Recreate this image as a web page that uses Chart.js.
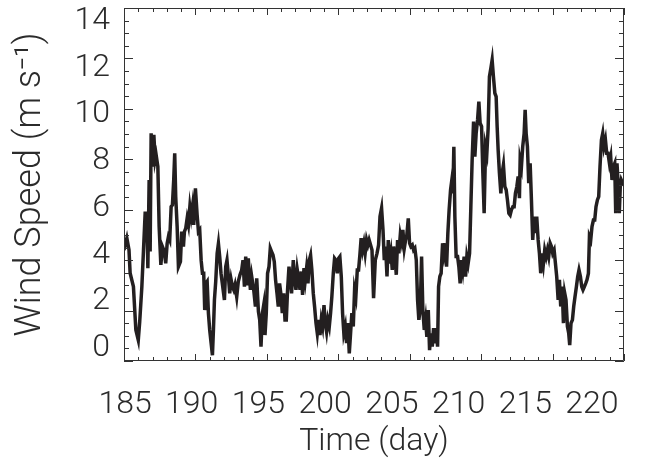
<!DOCTYPE html>
<html>
<head>
<meta charset="utf-8">
<script src="https://cdn.jsdelivr.net/npm/chart.js@4.4.1/dist/chart.umd.min.js"></script>
<style>
  html, body { margin: 0; padding: 0; background: #fff; }
  #wrap { width: 668px; height: 459px; }
</style>
</head>
<body>
<div id="wrap"><canvas id="chart" width="668" height="459"></canvas></div>
<script>
// time (day of year) and wind speed (m/s)
const days = [
  185.0, 185.2, 185.35, 185.43, 185.66, 185.83, 186.0, 186.1, 186.25, 186.36,
  186.48, 186.6, 186.67, 186.76, 186.83, 186.9, 187.0, 187.09, 187.18, 187.25,
  187.37, 187.46, 187.58, 187.69, 187.83, 187.92, 188.02, 188.11, 188.2, 188.3,
  188.39, 188.48, 188.55, 188.62, 188.72, 188.81, 188.95, 189.04, 189.16, 189.23,
  189.32, 189.42, 189.51, 189.61, 189.7, 189.79, 189.88, 190.0, 190.12, 190.21,
  190.3, 190.4, 190.49, 190.58, 190.65, 190.75, 190.82, 190.91, 191.0, 191.1,
  191.19, 191.26, 191.33, 191.42, 191.52, 191.61, 191.7, 191.79, 191.91, 192.03,
  192.12, 192.21, 192.31, 192.4, 192.5, 192.59, 192.68, 192.77, 192.89, 193.0,
  193.12, 193.24, 193.33, 193.43, 193.52, 193.6, 193.7, 193.78, 193.85, 193.94,
  194.08, 194.2, 194.29, 194.41, 194.5, 194.59, 194.69, 194.78, 194.87, 194.96,
  195.05, 195.15, 195.24, 195.33, 195.43, 195.52, 195.61, 195.71, 195.8, 195.89,
  195.99, 196.08, 196.18, 196.27, 196.36, 196.45, 196.55, 196.64, 196.73, 196.85,
  196.95, 197.04, 197.13, 197.23, 197.32, 197.41, 197.5, 197.6, 197.69, 197.78,
  197.88, 197.97, 198.06, 198.15, 198.25, 198.34, 198.44, 198.53, 198.62, 198.72,
  198.81, 198.9, 199.0, 199.09, 199.18, 199.27, 199.37, 199.46, 199.55, 199.65,
  199.74, 199.83, 199.93, 200.02, 200.11, 200.21, 200.3, 200.39, 200.49, 200.58,
  200.67, 200.77, 200.86, 200.95, 201.05, 201.14, 201.23, 201.33, 201.42, 201.51,
  201.6, 201.7, 201.79, 201.88, 201.98, 202.07, 202.16, 202.26, 202.36, 202.47,
  202.59, 202.71, 202.82, 202.92, 203.03, 203.13, 203.22, 203.31, 203.41, 203.5,
  203.59, 203.69, 203.78, 203.87, 203.97, 204.06, 204.15, 204.24, 204.34, 204.43,
  204.52, 204.62, 204.71, 204.8, 204.9, 204.99, 205.08, 205.18, 205.27, 205.36,
  205.46, 205.55, 205.64, 205.74, 205.83, 205.92, 206.02, 206.11, 206.2, 206.3,
  206.39, 206.48, 206.58, 206.67, 206.76, 206.86, 206.95, 207.02, 207.11, 207.2,
  207.3, 207.39, 207.48, 207.58, 207.67, 207.76, 207.86, 207.95, 208.02, 208.09,
  208.16, 208.25, 208.35, 208.44, 208.53, 208.63, 208.72, 208.81, 208.91, 209.0,
  209.09, 209.19, 209.28, 209.37, 209.47, 209.56, 209.65, 209.75, 209.84, 209.93,
  210.03, 210.12, 210.21, 210.31, 210.4, 210.49, 210.58, 210.68, 210.77, 210.86,
  210.96, 211.05, 211.12, 211.19, 211.28, 211.38, 211.47, 211.56, 211.66, 211.75,
  211.84, 211.94, 212.03, 212.12, 212.22, 212.31, 212.4, 212.5, 212.59, 212.68,
  212.73, 212.82, 212.91, 213.01, 213.08, 213.15, 213.24, 213.33, 213.43, 213.52,
  213.61, 213.71, 213.8, 213.89, 213.99, 214.08, 214.17, 214.27, 214.36, 214.45,
  214.55, 214.64, 214.73, 214.83, 214.92, 215.01, 215.11, 215.2, 215.29, 215.39,
  215.48, 215.57, 215.67, 215.76, 215.85, 215.94, 216.04, 216.13, 216.2, 216.29,
  216.39, 216.48, 216.57, 216.67, 216.76, 216.85, 216.95, 217.04, 217.13, 217.23,
  217.32, 217.41, 217.51, 217.58, 217.67, 217.76, 217.86, 217.95, 218.04, 218.14,
  218.23, 218.32, 218.42, 218.51, 218.6, 218.7, 218.79, 218.88, 218.98, 219.07,
  219.16, 219.26, 219.35, 219.42, 219.51, 219.6, 219.67, 219.74, 219.81, 219.91, 220.0
];
const speeds = [
  4.4, 4.87, 4.4, 3.48, 2.95, 1.23, 0.83, 1.56, 2.95, 4.34,
  5.86, 5.86, 3.68, 7.18, 4.34, 9.03, 7.71, 8.97, 7.97, 8.17,
  7.71, 5.33, 3.81, 4.54, 4.34, 3.87, 4.66, 4.93, 4.8, 6.12,
  6.19, 7.18, 8.24, 6.52, 5.33, 3.74, 3.94, 5.13, 4.54, 5.13,
  5.26, 5.66, 5.4, 6.12, 5.73, 6.12, 5.4, 6.85, 5.79, 5.13,
  5.2, 4.0, 3.48, 3.48, 2.02, 3.09, 3.15, 1.89, 1.23, 0.7,
  0.23, 1.23, 2.42, 3.15, 4.27, 4.66, 4.14, 3.48, 2.95, 2.42,
  3.74, 4.0, 3.35, 2.68, 3.22, 2.95, 2.82, 3.02, 2.55, 3.15,
  3.42, 3.61, 4.0, 2.95, 4.14, 3.0, 4.07, 3.35, 2.82, 3.35,
  2.82, 2.16, 3.28, 1.96, 1.63, 0.57, 1.9, 2.22, 1.03, 1.9,
  3.48, 3.74, 4.47, 4.34, 4.2, 3.94, 3.22, 2.68, 2.16, 3.08,
  2.62, 1.9, 2.68, 1.63, 1.63, 2.82, 3.74, 3.22, 2.68, 4.0,
  3.22, 2.82, 3.61, 3.22, 2.82, 3.55, 2.62, 3.68, 3.22, 3.68,
  3.08, 4.0, 4.2, 3.61, 2.68, 2.16, 1.5, 1.1, 1.63, 1.03,
  1.63, 1.37, 2.22, 1.5, 1.16, 1.63, 1.37, 1.9, 2.55, 3.48,
  4.07, 4.0, 3.48, 4.07, 4.14, 3.35, 1.9, 1.1, 1.37, 0.71,
  1.5, 0.3, 1.1, 1.9, 1.37, 2.82, 2.55, 3.61, 3.61, 4.2,
  4.87, 4.4, 4.67, 4.27, 4.8, 4.6, 4.8, 4.6, 4.4, 2.49,
  4.0, 4.27, 4.6, 5.73, 6.06, 5.2, 4.0, 4.54, 3.35, 4.8,
  3.87, 4.27, 3.61, 4.54, 4.14, 3.42, 4.8, 4.27, 5.0, 4.74,
  5.2, 4.47, 4.8, 5.0, 5.66, 4.67, 4.54, 4.6, 4.4, 4.47,
  4.0, 2.42, 1.63, 2.09, 4.14, 2.02, 1.23, 1.63, 0.96, 2.02,
  0.43, 1.1, 0.57, 1.3, 0.7, 1.3, 0.57, 2.95, 3.35, 3.48,
  4.67, 4.27, 4.67, 3.74, 5.07, 6.0, 6.79, 7.18, 6.65, 8.5,
  5.73, 4.14, 4.14, 3.74, 3.08, 4.0, 3.61, 4.14, 3.35, 4.14,
  3.87, 4.27, 6.12, 7.97, 9.5, 8.1, 9.03, 9.56, 10.29, 9.43,
  9.3, 7.45, 5.86, 8.5, 8.24, 9.23, 11.28, 11.61, 11.94, 11.28,
  10.62, 10.49, 9.3, 8.37, 7.45, 6.65, 7.45, 7.78, 6.92, 6.79,
  6.39, 5.86, 5.79, 6.0, 6.12, 6.12, 6.65, 6.92, 7.32, 6.46,
  7.97, 7.71, 8.5, 9.03, 9.96, 9.03, 8.5, 7.05, 7.84, 6.39,
  4.8, 5.73, 5.07, 5.73, 4.8, 4.27, 3.48, 4.27, 3.87, 4.4,
  4.14, 4.4, 4.14, 4.67, 4.54, 4.27, 4.4, 3.87, 3.35, 2.42,
  3.22, 2.16, 2.95, 1.5, 2.69, 2.42, 1.37, 1.1, 0.63, 1.5,
  1.63, 2.16, 2.55, 2.95, 3.35, 3.61, 3.35, 2.95, 2.82, 2.95,
  3.08, 3.22, 3.48, 4.93, 4.8, 5.33, 5.59, 5.59, 6.12, 6.39,
  6.52, 7.71, 8.77, 9.03, 8.5, 8.77, 8.24, 8.24, 7.84, 8.1,
  7.18, 7.71, 7.84, 5.86, 7.84, 6.92, 5.86, 6.92, 7.18, 7.05, 7.1
];
const xTickLabels = [185, 190, 195, 200, 205, 210, 215, 220];
const yTickLabels = [0, 2, 4, 6, 8, 10, 12, 14];

const textColor = '#2b2b2b';
const fontFamily = "Roboto, 'Noto Sans', sans-serif";

// IDL style box: frame on all sides with inward ticks
const frameTicks = {
  id: 'frameTicks',
  afterDatasetsDraw(chart) {
    const { ctx, chartArea: a, scales: { x, y } } = chart;
    ctx.save();
    ctx.strokeStyle = '#333';
    ctx.lineWidth = 1;
    ctx.beginPath();
    ctx.rect(a.left + 0.5, a.top + 0.5, a.right - a.left - 1, a.bottom - a.top - 1);
    for (let d = 185; d <= 220; d++) {
      const px = Math.round(x.getPixelForValue(d)) + 0.5;
      const len = d % 5 === 0 ? 7 : 4;
      ctx.moveTo(px, a.bottom); ctx.lineTo(px, a.bottom - len);
      ctx.moveTo(px, a.top); ctx.lineTo(px, a.top + len);
    }
    for (let v = 0; v <= 14; v += 0.5) {
      const py = Math.round(y.getPixelForValue(v)) + 0.5;
      const len = v % 2 === 0 ? 9 : 5;
      ctx.moveTo(a.left, py); ctx.lineTo(a.left + len, py);
      ctx.moveTo(a.right, py); ctx.lineTo(a.right - len, py);
    }
    ctx.stroke();
    ctx.restore();
  }
};

new Chart(document.getElementById('chart'), {
  type: 'line',
  data: {
    datasets: [{
      data: days.map((d, i) => ({ x: d, y: speeds[i] })),
      borderColor: '#231f20',
      borderWidth: 3.5,
      pointRadius: 0,
      tension: 0,
      fill: false
    }]
  },
  options: {
    responsive: false,
    animation: false,
    parsing: false,
    layout: { padding: { top: 8, right: 44, bottom: 0, left: 0 } },
    plugins: { legend: { display: false }, tooltip: { enabled: false } },
    scales: {
      x: { type: 'linear', min: 185, max: 220, display: false },
      y: { type: 'linear', min: 0, max: 14, display: false },
      // label axes: the printed numbers sit slightly inside the tick span
      xLabels: {
        type: 'linear', axis: 'x', position: 'bottom', bounds: 'data',
        min: 184.925, max: 222.4,
        afterBuildTicks: s => { s.ticks = xTickLabels.map(v => ({ value: v })); },
        afterFit: s => { s.height = 98; s.paddingLeft = 0; s.paddingRight = 0; },
        grid: { display: false, drawTicks: false },
        border: { display: false },
        ticks: {
          padding: 25, maxRotation: 0, autoSkip: false, color: textColor,
          font: { family: fontFamily, size: 32, weight: '300', lineHeight: 1.2 }
        },
        title: {
          display: true, text: 'Time (day)', color: textColor,
          padding: { top: 0, bottom: 1 },
          font: { family: fontFamily, size: 32, weight: '300', lineHeight: 1 }
        }
      },
      yLabels: {
        type: 'linear', axis: 'y', position: 'left', bounds: 'data',
        min: -0.557, max: 14.557,
        afterBuildTicks: s => { s.ticks = yTickLabels.map(v => ({ value: v })); },
        afterFit: s => { s.width = 124; s.paddingTop = 0; s.paddingBottom = 0; },
        grid: { display: false, drawTicks: false },
        border: { display: false },
        ticks: {
          padding: 14, autoSkip: false, color: textColor,
          font: { family: fontFamily, size: 32, weight: '300', lineHeight: 1.2 }
        },
        title: {
          display: true, text: 'Wind Speed (m s\u207B\u00B9)', color: textColor,
          padding: { top: 13, bottom: 0 },
          font: { family: fontFamily, size: 36, weight: '300', lineHeight: 1 }
        }
      }
    }
  },
  plugins: [frameTicks]
});
</script>
</body>
</html>
